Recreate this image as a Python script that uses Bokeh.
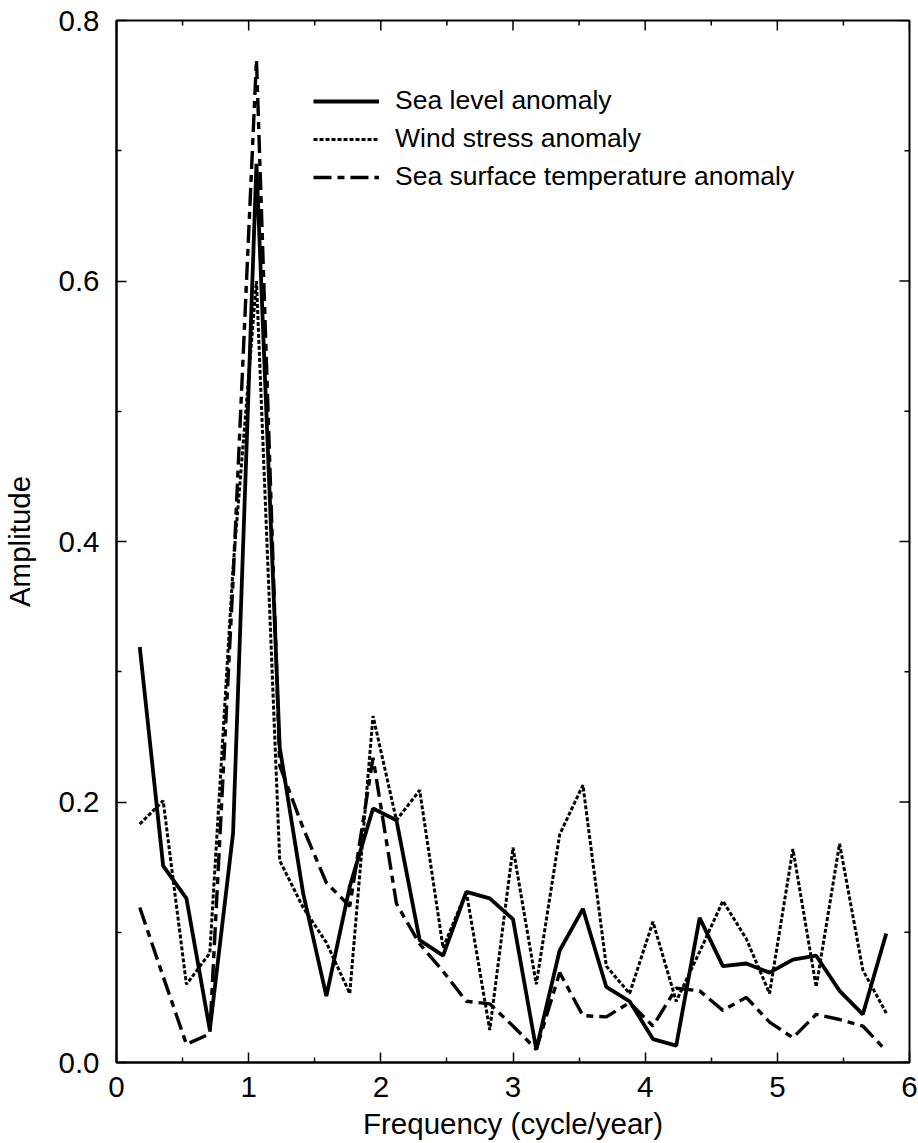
import math

from bokeh.plotting import figure
from bokeh.models import FixedTicker, Legend, LegendItem, NumeralTickFormatter
from bokeh.embed import file_html
from bokeh.resources import INLINE

# Spectral amplitudes at each resolved frequency (cycle/year)
freq = [0.176, 0.353, 0.529, 0.706, 0.882, 1.059, 1.235, 1.412, 1.588, 1.765,
        1.941, 2.118, 2.294, 2.471, 2.647, 2.824, 3.000, 3.176, 3.353, 3.529,
        3.706, 3.882, 4.059, 4.235, 4.412, 4.588, 4.765, 4.941, 5.118, 5.294,
        5.471, 5.647, 5.824]

sea_level = [0.319, 0.151, 0.126, 0.025, 0.176, 0.690, 0.242, 0.130, 0.051, 0.135,
             0.195, 0.186, 0.094, 0.082, 0.131, 0.126, 0.110, 0.010, 0.086, 0.118,
             0.058, 0.047, 0.018, 0.013, 0.111, 0.074, 0.076, 0.069, 0.079, 0.082,
             0.055, 0.037, 0.099]

wind_stress = [0.183, 0.201, 0.060, 0.084, 0.380, 0.600, 0.155, 0.119, 0.092, 0.053,
               0.266, 0.186, 0.209, 0.088, 0.131, 0.025, 0.165, 0.060, 0.175, 0.213,
               0.074, 0.053, 0.108, 0.047, 0.085, 0.124, 0.095, 0.053, 0.164, 0.058,
               0.168, 0.071, 0.038]

sst = [0.119, 0.066, 0.014, 0.022, 0.370, 0.770, 0.228, 0.180, 0.138, 0.120,
       0.234, 0.122, 0.091, 0.070, 0.047, 0.045, 0.028, 0.010, 0.069, 0.036,
       0.035, 0.046, 0.028, 0.057, 0.055, 0.040, 0.050, 0.031, 0.019, 0.037,
       0.033, 0.028, 0.009]

labels = ["Sea level anomaly", "Wind stress anomaly", "Sea surface temperature anomaly"]
x_title = "Frequency (cycle/year)"
y_title = "Amplitude"

x_major = [0, 1, 2, 3, 4, 5, 6]
x_minor = [0.5, 1.5, 2.5, 3.5, 4.5, 5.5]
y_major = [0.0, 0.2, 0.4, 0.6, 0.8]
y_minor = [0.1, 0.3, 0.5, 0.7]

FONT = "Liberation Sans"
X_MIN, X_MAX = 0, 6
Y_MIN, Y_MAX = 0, 0.8

p = figure(width=918, height=1143, x_range=(X_MIN, X_MAX), y_range=(Y_MIN, Y_MAX),
           output_backend="svg", toolbar_location=None,
           min_border_left=115, min_border_right=9,
           min_border_top=20, min_border_bottom=81,
           background_fill_color="white", border_fill_color="white")

p.xgrid.visible = False
p.ygrid.visible = False
p.outline_line_color = "black"
p.outline_line_width = 2

p.xaxis.ticker = FixedTicker(ticks=x_major, minor_ticks=x_minor)
p.yaxis.ticker = FixedTicker(ticks=y_major, minor_ticks=y_minor)
p.xaxis.formatter = NumeralTickFormatter(format="0")
p.yaxis.formatter = NumeralTickFormatter(format="0.0")
p.xaxis.axis_label = x_title
p.yaxis.axis_label = y_title

for ax in (p.xaxis[0], p.yaxis[0]):
    ax.axis_line_color = "black"
    ax.axis_line_width = 2
    ax.major_tick_in = 10
    ax.major_tick_out = 0
    ax.minor_tick_in = 5
    ax.minor_tick_out = 0
    ax.major_tick_line_width = 1.5
    ax.minor_tick_line_width = 1.5
    ax.major_tick_line_color = "black"
    ax.minor_tick_line_color = "black"
    ax.major_label_text_font = FONT
    ax.major_label_text_font_size = "29.5px"
    ax.major_label_text_color = "black"
    ax.axis_label_text_font = FONT
    ax.axis_label_text_font_size = "29.5px"
    ax.axis_label_text_font_style = "normal"
    ax.axis_label_text_color = "black"

p.xaxis.major_label_standoff = 14
p.yaxis.major_label_standoff = 17
p.xaxis.axis_label_standoff = 7
p.yaxis.axis_label_standoff = 19

# Mirrored inward ticks on the top and right edges of the frame
tick_kw = dict(length_units="screen", line_color="black", line_width=1.5)
p.ray(x=x_major, y=[Y_MAX] * len(x_major), length=10, angle=-math.pi / 2, **tick_kw)
p.ray(x=x_minor, y=[Y_MAX] * len(x_minor), length=5, angle=-math.pi / 2, **tick_kw)
p.ray(x=[X_MAX] * len(y_major), y=y_major, length=10, angle=math.pi, **tick_kw)
p.ray(x=[X_MAX] * len(y_minor), y=y_minor, length=5, angle=math.pi, **tick_kw)

r_wind = p.line(freq, wind_stress, line_color="black", line_width=3,
                line_dash="4 2")
r_sst = p.line(freq, sst, line_color="black", line_width=3.4,
               line_dash="18 6 7 6")
r_sea = p.line(freq, sea_level, line_color="black", line_width=3.8)

legend = Legend(items=[LegendItem(label=labels[0], renderers=[r_sea]),
                       LegendItem(label=labels[1], renderers=[r_wind]),
                       LegendItem(label=labels[2], renderers=[r_sst])],
                location=(197, 870), orientation="vertical",
                glyph_width=66, glyph_height=30, label_height=30,
                spacing=7, padding=0, margin=0, label_standoff=16,
                label_text_font=FONT, label_text_font_size="26.5px",
                label_text_color="black",
                border_line_alpha=0, background_fill_alpha=0)
p.add_layout(legend)

open("out.html", "w").write(file_html(p, INLINE))
